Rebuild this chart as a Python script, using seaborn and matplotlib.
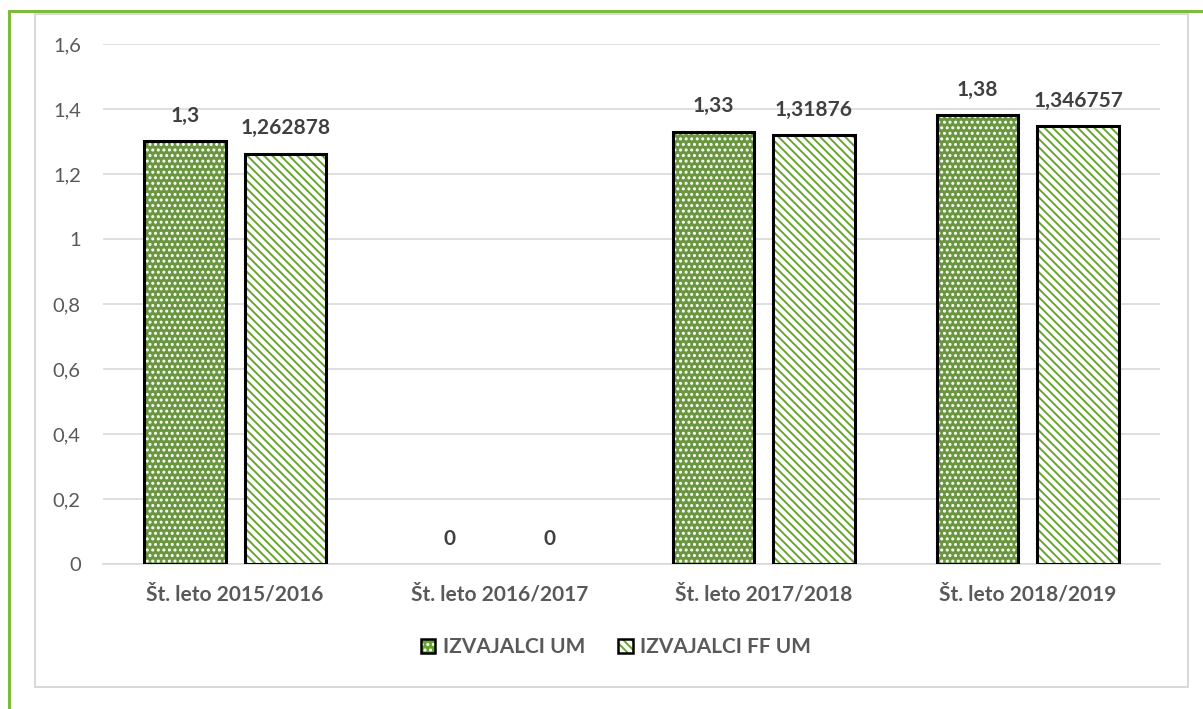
import matplotlib
matplotlib.use("Agg")
import matplotlib.pyplot as plt
import seaborn as sns
import pandas as pd
from matplotlib.patches import Rectangle, Patch
from matplotlib.legend_handler import HandlerTuple
from matplotlib.ticker import FuncFormatter, MultipleLocator

# ---- data ----
categories = ["Št. leto 2015/2016", "Št. leto 2016/2017", "Št. leto 2017/2018", "Št. leto 2018/2019"]
series_names = ["IZVAJALCI UM", "IZVAJALCI FF UM"]
izvajalci_um = [1.3, 0, 1.33, 1.38]
izvajalci_ff_um = [1.262878, 0, 1.31876, 1.346757]

GREEN = "#68A52F"
TEXT = "#404040"
TICK = "#595959"

sns.set_theme(style="white")
plt.rcParams["font.family"] = ["Lato", "DejaVu Sans"]
plt.rcParams["hatch.linewidth"] = 1.4

df = pd.DataFrame({
    "cat": categories * 2,
    "series": [series_names[0]] * 4 + [series_names[1]] * 4,
    "val": izvajalci_um + izvajalci_ff_um,
})

fig = plt.figure(figsize=(12.03, 7.09), dpi=100)
ax = fig.add_axes([0.0856, 0.2045, 0.8787, 0.7335])

sns.barplot(data=df, x="cat", y="val", hue="series", order=categories,
            hue_order=series_names, palette=[GREEN, "white"],
            width=0.76, gap=0.19, ax=ax, legend=False, errorbar=None)

styles = [dict(hatch="...", hcolor="white"), dict(hatch="\\\\\\\\", hcolor=GREEN)]
for cont, st, vals in zip(ax.containers, styles, [izvajalci_um, izvajalci_ff_um]):
    for bar in cont:
        bar.set_hatch(st["hatch"])
        bar.set_edgecolor(st["hcolor"])
        bar.set_linewidth(0)
        if bar.get_height() > 0:
            ax.add_patch(Rectangle((bar.get_x(), bar.get_y()), bar.get_width(), bar.get_height(),
                                   fill=False, edgecolor="black", linewidth=2.2, zorder=3))
    labels = [f"{v:.6f}".rstrip("0").rstrip(".").replace(".", ",") for v in vals]
    ax.bar_label(cont, labels=labels, padding=11, fontsize=15, fontweight="bold", color=TEXT)

ax.set_ylim(0, 1.6)
ax.set_xlim(-0.5, 3.5)
ax.yaxis.set_major_locator(MultipleLocator(0.2))
ax.yaxis.set_major_formatter(FuncFormatter(lambda v, p: f"{v:.1f}".rstrip("0").rstrip(".").replace(".", ",")))
ax.grid(axis="y", color="#D9D9D9", linewidth=1.2)
ax.set_axisbelow(True)
for s in ["top", "right", "left"]:
    ax.spines[s].set_visible(False)
ax.spines["bottom"].set_color("#D9D9D9")
ax.spines["bottom"].set_linewidth(1.2)
ax.set_xlabel("")
ax.set_ylabel("")
ax.tick_params(axis="y", labelsize=14.5, colors=TICK, length=0, pad=16)
ax.tick_params(axis="x", labelsize=15, colors=TICK, length=0, pad=15)
for t in ax.get_xticklabels():
    t.set_fontweight("bold")

# legend
h1 = (Patch(facecolor=GREEN, edgecolor="white", hatch="...", linewidth=0),
      Patch(fill=False, edgecolor="black", linewidth=1.8))
h2 = (Patch(facecolor="white", edgecolor=GREEN, hatch="\\\\\\\\", linewidth=0),
      Patch(fill=False, edgecolor="black", linewidth=1.8))
leg = fig.legend([h1, h2], series_names, handler_map={tuple: HandlerTuple(ndivide=1)},
                 loc="center", bbox_to_anchor=(0.512, 0.087), ncol=2, frameon=False,
                 handlelength=0.7, handleheight=0.7, handletextpad=0.35, columnspacing=1.6,
                 prop={"weight": "bold", "size": 15})
for t in leg.get_texts():
    t.set_color(TICK)

# chart frame and green decoration
fig.patches.append(Rectangle((35 / 1203, 1 - 687 / 709), (1188 - 35) / 1203, (687 - 14) / 709,
                             transform=fig.transFigure, fill=False, edgecolor="#D9D9D9", linewidth=1.5))
fig.patches.append(Rectangle((8 / 1203, 0), 3 / 1203, 1 - 10 / 709, transform=fig.transFigure,
                             facecolor="#7DBB3A", edgecolor="none"))
fig.patches.append(Rectangle((8 / 1203, 1 - 13 / 709), 1 - 8 / 1203, 3 / 709, transform=fig.transFigure,
                             facecolor="#7DBB3A", edgecolor="none"))

fig.savefig("out.png", dpi=100)
